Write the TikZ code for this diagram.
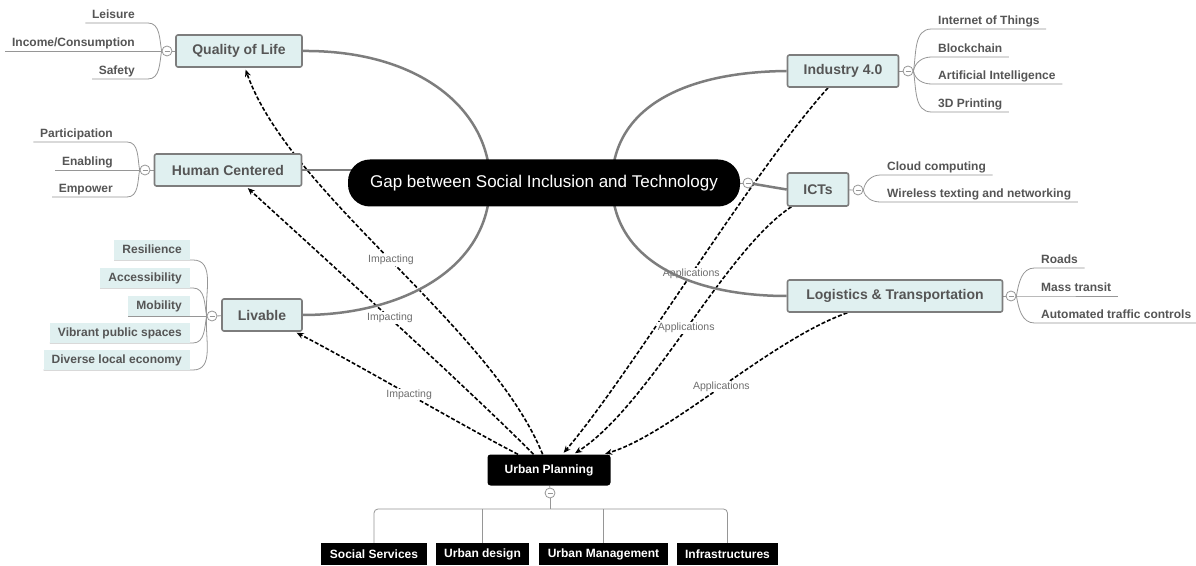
\documentclass[tikz,border=0pt]{standalone}
\usepackage{fontspec}
\setmainfont{Liberation Sans}
\usepackage{xcolor}
\usepackage{tikz}
\usetikzlibrary{arrows.meta,shapes,backgrounds,calc}
\definecolor{topicfill}{RGB}{224,240,240}
\definecolor{topicdraw}{RGB}{125,125,125}
\definecolor{txtgray}{RGB}{85,85,85}
\definecolor{subgray}{RGB}{150,150,150}
\definecolor{lblgray}{RGB}{110,110,110}
\tikzstyle{topic}=[rectangle, draw=topicdraw, fill=topicfill, line width=1.6pt, rounded corners=2pt,% light boxes round the centre
text=txtgray, font=\fontsize{14}{16}\selectfont\bfseries, minimum height=32pt, inner sep=0pt]
\tikzstyle{central}=[rectangle, fill=black, rounded corners=22pt, text=white, font=\fontsize{17}{20}\selectfont,
minimum width=392pt, minimum height=47pt, inner sep=0pt]
\tikzstyle{plan}=[rectangle, fill=black, rounded corners=3pt, text=white, font=\fontsize{12}{14}\selectfont\bfseries,
minimum height=31pt, inner sep=0pt]
\tikzstyle{planblk}=[rectangle, fill=black, text=white, font=\fontsize{12}{14}\selectfont\bfseries,
minimum height=22pt, inner xsep=8.5pt, inner ysep=0pt]
\tikzstyle{sub}=[text=txtgray, font=\fontsize{12}{14}\selectfont\bfseries, text height=9pt, text depth=2.5pt,
inner xsep=6.5pt, inner ysep=1.5pt]
\tikzstyle{subbox}=[sub, fill=topicfill, inner xsep=8pt, inner ysep=4.25pt]
\tikzstyle{fold}=[circle, draw=subgray, fill=white, line width=0.8pt, minimum size=10pt, inner sep=0pt,
path picture={\draw[subgray, line width=0.8pt] ([xshift=-2.5pt]path picture bounding box.center) -- ([xshift=2.5pt]path picture bounding box.center);}]
\tikzstyle{subline}=[draw=subgray, line width=0.8pt]
\tikzstyle{branch}=[draw=topicdraw, line width=2.5pt]
\tikzstyle{dlink}=[draw=black, line width=1.6pt, dash pattern=on 4pt off 2pt, -{Stealth[length=7pt,width=6pt]}, shorten >=2pt]
\tikzstyle{lbl}=[fill=white, text=lblgray, font=\fontsize{10.5}{12}\selectfont, inner sep=1pt]

\begin{document}
\begin{tikzpicture}[x=1pt,y=1pt]
\useasboundingbox (0,0) rectangle (1196,565);
\node[central] (gap) at (544,382) {Gap between Social Inclusion and Technology};
\node[fold] (gapf) at (748,382) {};
\node[topic, minimum width=126pt] (qol) at (239,514) {Quality of Life};
\node[topic, minimum width=147pt] (hc) at (228,395) {Human Centered};
\node[topic, minimum width=80pt] (liv) at (262,250) {Livable};
\node[topic, minimum width=111pt] (ind) at (843,494) {Industry 4.0};
\node[topic, minimum width=61pt, minimum height=33pt] (ict) at (818,375.5) {ICTs};
\node[topic, minimum width=215pt] (log) at (895,269) {Logistics \& Transportation};
\node[plan, minimum width=123pt] (up) at (549,95) {Urban Planning};

\node[fold] (qolf) at (167,514) {};
\node[fold] (hcf) at (145,395) {};
\node[fold] (livf) at (212,249) {};
\node[fold] (indf) at (908,494) {};
\node[fold] (ictf) at (858,375) {};
\node[fold] (logf) at (1011,269) {};
\node[fold] (upf) at (550,72) {};

\node[sub, anchor=south east] (leis) at (141.5,542) {Leisure};
\node[sub, anchor=south east] (inc) at (141.5,514) {Income/Consumption};
\node[sub, anchor=south east] (saf) at (141.5,486) {Safety};
\node[sub, anchor=south east] (par) at (119.5,423) {Participation};
\node[sub, anchor=south east] (ena) at (119.5,395) {Enabling};
\node[sub, anchor=south east] (emp) at (119.5,368) {Empower};
\node[subbox, anchor=south east] (res) at (190,305) {Resilience};
\node[subbox, anchor=south east] (acc) at (190,277) {Accessibility};
\node[subbox, anchor=south east] (mob) at (190,249) {Mobility};
\node[subbox, anchor=south east] (vib) at (190,222) {Vibrant public spaces};
\node[subbox, anchor=south east] (div) at (190,195) {Diverse local economy};
\node[sub, anchor=south west] (iot) at (931.5,536) {Internet of Things};
\node[sub, anchor=south west] (blk) at (931.5,508) {Blockchain};
\node[sub, anchor=south west] (ai) at (931.5,481) {Artificial Intelligence};
\node[sub, anchor=south west] (tdp) at (931.5,453) {3D Printing};
\node[sub, anchor=south west] (cloud) at (880.5,390) {Cloud computing};
\node[sub, anchor=south west] (wire) at (880.5,363) {Wireless texting and networking};
\node[sub, anchor=south west] (road) at (1034.5,297) {Roads};
\node[sub, anchor=south west] (mass) at (1034.5,269) {Mass transit};
\node[sub, anchor=south west] (atc) at (1034.5,242) {Automated traffic controls};

\node[planblk] (ss) at (374,11) {Social Services};
\node[planblk] (ud) at (482.5,11) {Urban design};
\node[planblk] (um) at (603.5,11) {Urban Management};
\node[planblk] (inf) at (727.5,11) {Infrastructures};
\coordinate (brk) at (550,56);
\coordinate (gapl) at (490,382);
\coordinate (gapr) at (612,382);

\begin{pgfonlayer}{background}
\fill[white] (0,0) rectangle (1196,565);
\draw[dlink] (up) .. controls (490,240) and (290,370) .. (qol) node[lbl, midway] {Impacting};
\draw[dlink] (up) .. controls (470,175) and (310,320) .. (hc) node[lbl, midway] {Impacting};
\draw[dlink] (up) .. controls (470,135) and (350,205) .. (liv) node[lbl, midway] {Impacting};
\draw[dlink] (ind) .. controls (750,390) and (630,190) .. (up) node[lbl, midway] {Applications};
\draw[dlink] (ict) .. controls (725,315) and (650,160) .. (up) node[lbl, midway] {Applications};
\draw[dlink] (log) .. controls (770,225) and (670,130) .. (up) node[lbl, midway] {Applications};

\draw[branch] (qol.east) .. controls (420,515) and (490,455) .. (gapl);
\draw[branch] (hc.east) -- ([xshift=10pt]hc.east -| gap.west);
\draw[branch] (liv.east) .. controls (400,250) and (490,295) .. (gapl);
\draw[branch] (ind.west) .. controls (680,493) and (612,455) .. (gapr);
\draw[branch] (gapf) -- (ict.west);
\draw[branch] (log.west) .. controls (690,269) and (612,305) .. (gapr);

\draw[subline] (gap.east) -- (gapf);
\draw[subline] (qol) -- (qolf);
\draw[subline] (qolf.west) to[out=100,in=0] ([xshift=6.5pt]leis.south east) -- (leis.south west);
\draw[subline] (qolf.west) -- (inc.south west);
\draw[subline] (qolf.west) to[out=-100,in=0] ([xshift=6.5pt]saf.south east) -- (saf.south west);
\draw[subline] (hc) -- (hcf);
\draw[subline] (hcf.west) to[out=100,in=0] ([xshift=7.5pt]par.south east) -- (par.south west);
\draw[subline] (hcf.west) -- (ena.south west);
\draw[subline] (hcf.west) to[out=-100,in=0] ([xshift=7.5pt]emp.south east) -- (emp.south west);
\draw[subline] (liv) -- (livf);
\draw[subline] (livf.west) to[out=95,in=0] ([xshift=3pt]res.south east) -- (res.south west);
\draw[subline] (livf.west) to[out=100,in=0] ([xshift=3pt]acc.south east) -- (acc.south west);
\draw[subline] (livf.west) -- (mob.south west);
\draw[subline] (livf.west) to[out=-100,in=0] ([xshift=3pt]vib.south east) -- (vib.south west);
\draw[subline] (livf.west) to[out=-95,in=0] ([xshift=3pt]div.south east) -- (div.south west);
\draw[subline] (ind) -- (indf);
\draw[subline] (indf.east) to[out=80,in=180] (iot.south west) -- (iot.south east);
\draw[subline] (indf.east) to[out=80,in=180] (blk.south west) -- (blk.south east);
\draw[subline] (indf.east) to[out=-80,in=180] (ai.south west) -- (ai.south east);
\draw[subline] (indf.east) to[out=-80,in=180] (tdp.south west) -- (tdp.south east);
\draw[subline] (ict) -- (ictf);
\draw[subline] (ictf.east) to[out=80,in=180] (cloud.south west) -- (cloud.south east);
\draw[subline] (ictf.east) to[out=-80,in=180] (wire.south west) -- (wire.south east);
\draw[subline] (log) -- (logf);
\draw[subline] (logf.east) to[out=80,in=180] (road.south west) -- (road.south east);
\draw[subline] (logf.east) -- (mass.south west) -- (mass.south east);
\draw[subline] (logf.east) to[out=-80,in=180] (atc.south west) -- (atc.south east);
\draw[subline] (up) -- (upf);
\draw[subline] (upf) -- (brk);
\draw[subline, rounded corners=4pt] (ss.north) |- (brk) -| (inf.north);
\draw[subline] (ud.north) -- (ud.north |- brk);
\draw[subline] (um.north) -- (um.north |- brk);
\end{pgfonlayer}
\end{tikzpicture}
\end{document}
